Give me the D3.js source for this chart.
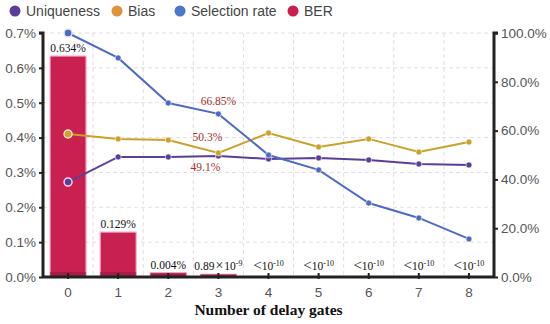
<!DOCTYPE html>
<html><head><meta charset="utf-8">
<script src="https://cdn.jsdelivr.net/npm/d3@7"></script>
<style>body{margin:0;background:#fff}svg{display:block}</style>
</head><body>
<svg id="c" width="550" height="324"></svg>
<script>
const categories = ["0","1","2","3","4","5","6","7","8"];
const berValues = [0.634, 0.129, 0.012, 0.008, 0, 0, 0, 0, 0];
const berLabels = ["0.634%", "0.129%", "0.004%", "0.89×10|-9", "<10|-10", "<10|-10", "<10|-10", "<10|-10", "<10|-10"];
const selectionRate = [100, 89.8, 71.3, 66.85, 50.0, 43.9, 30.3, 24.2, 15.6];
const bias = [58.6, 56.6, 56.1, 50.8, 59.0, 53.3, 56.6, 51.2, 55.3];
const uniqueness = [38.9, 49.2, 49.2, 49.6, 48.4, 48.8, 48.0, 46.3, 45.9];
const leftTicks = [0, 0.1, 0.2, 0.3, 0.4, 0.5, 0.6, 0.7];
const rightTicks = [0, 20, 40, 60, 80, 100];
const annotations = [
  {i: 3, text: "66.85%", series: "sel", dx: 0, dy: -9},
  {i: 3, text: "50.3%", series: "bias", dx: -11, dy: -12},
  {i: 3, text: "49.1%", series: "uni", dx: -13, dy: 15}
];

const svg = d3.select("#c");
const m = {l: 43, r: 494, t: 33, b: 277};
const x = d3.scaleBand().domain(categories).range([m.l, m.r]).paddingInner(0.28).paddingOuter(0.14);
const xc = d => x(d) + x.bandwidth() / 2;
const yL = d3.scaleLinear().domain([0, 0.7]).range([m.b, m.t]);
const yR = d3.scaleLinear().domain([0, 100]).range([m.b, m.t]);
const step = x.step();

// grid
const g = svg.append("g");
leftTicks.forEach(t => g.append("line").attr("x1", m.l).attr("x2", m.r).attr("y1", yL(t)).attr("y2", yL(t))
  .attr("stroke", "#e2dde2").attr("stroke-dasharray", "4,3").attr("stroke-width", 1));
categories.slice(1).forEach(c => {
  const xx = x(c) - (step - x.bandwidth()) / 2;
  g.append("line").attr("x1", xx).attr("x2", xx).attr("y1", m.t).attr("y2", m.b)
    .attr("stroke", "#e2dde2").attr("stroke-dasharray", "4,3").attr("stroke-width", 1);
});

// bars
const bars = svg.append("g");
categories.forEach((c, i) => {
  const v = berValues[i];
  if (v <= 0) return;
  bars.append("rect").attr("x", x(c)).attr("width", x.bandwidth()).attr("y", yL(v)).attr("height", yL(0) - yL(v))
    .attr("fill", "#c8204f").attr("stroke", "#f7b3d3").attr("stroke-width", 1.2);
  const sh = Math.min(5, yL(0) - yL(v));
  bars.append("rect").attr("x", x(c)).attr("width", x.bandwidth()).attr("y", yL(0) - sh).attr("height", sh)
    .attr("fill", "#8e1d3e").attr("opacity", 0.6);
});

// bar labels
categories.forEach((c, i) => {
  const parts = berLabels[i].split("|");
  const yy = Math.min(yL(berValues[i]) - 4, m.b - 7);
  const t = svg.append("text").attr("x", xc(c)).attr("y", yy).attr("text-anchor", "middle")
    .attr("font-family", "Liberation Serif, Times New Roman, serif").attr("font-size", 11.5).attr("fill", "#111");
  let main = parts[0];
  if (main.startsWith("<")) {
    t.append("tspan").attr("font-size", 15).text("<");
    t.append("tspan").text(main.slice(1));
  } else if (main.includes("×")) {
    const [a, b] = main.split("×");
    t.append("tspan").text(a);
    t.append("tspan").attr("font-size", 14).attr("dx", 1).text("×");
    t.append("tspan").attr("dx", 1).text(b);
  } else {
    t.append("tspan").text(main);
  }
  if (parts[1]) t.append("tspan").attr("dy", -4).attr("font-size", 8).text(parts[1]);
});

// lines
function drawSeries(vals, lineColor, ptColor, firstStroke) {
  const line = d3.line().x((d, i) => xc(categories[i])).y(d => yR(d));
  svg.append("path").datum(vals).attr("d", line).attr("fill", "none").attr("stroke", lineColor).attr("stroke-width", 2);
  vals.forEach((v, i) => {
    svg.append("circle").attr("cx", xc(categories[i])).attr("cy", yR(v)).attr("r", i === 0 ? 4 : 3)
      .attr("fill", ptColor).attr("stroke", i === 0 ? firstStroke : "#fff").attr("stroke-width", i === 0 ? 1.5 : 0.6);
  });
}
drawSeries(uniqueness, "#5a3f98", "#5a3f98", "#f6d0ee");
drawSeries(bias, "#caa229", "#caa229", "#fde0c8");
drawSeries(selectionRate, "#4e6bc1", "#4e6bc1", "#dde4f6");

// annotations
const seriesMap = {sel: selectionRate, bias: bias, uni: uniqueness};
annotations.forEach(a => {
  svg.append("text").attr("x", xc(categories[a.i]) + a.dx).attr("y", yR(seriesMap[a.series][a.i]) + a.dy)
    .attr("text-anchor", "middle").attr("font-family", "Liberation Serif, Times New Roman, serif")
    .attr("font-size", 11.5).attr("fill", "#a3302b").text(a.text);
});

// axes
const fmtL = d => d.toFixed(1) + "%";
const fmtR = d => d.toFixed(1) + "%";
const axL = svg.append("g").attr("transform", `translate(${m.l},0)`)
  .call(d3.axisLeft(yL).tickValues(leftTicks).tickFormat(fmtL).tickSize(4).tickPadding(3));
const axR = svg.append("g").attr("transform", `translate(${m.r},0)`)
  .call(d3.axisRight(yR).tickValues(rightTicks).tickFormat(fmtR).tickSize(4).tickPadding(3));
const axB = svg.append("g").attr("transform", `translate(0,${m.b})`)
  .call(d3.axisBottom(x).tickSize(4).tickPadding(6));
[axL, axR, axB].forEach(a => {
  a.select(".domain").attr("stroke", "#222").attr("stroke-width", 3);
  a.selectAll(".tick line").attr("stroke", "#222").attr("stroke-width", 2);
  a.selectAll(".tick text").attr("font-family", "Liberation Sans, Arial, sans-serif").attr("font-size", 13.5).attr("fill", "#555");
});
axL.select(".domain").attr("d", `M-4,${m.t}H0V${m.b}`);
axR.select(".domain").attr("d", `M4,${m.t}H0V${m.b}`);
axB.select(".domain").attr("d", `M${m.l},0H${m.r}`);
axB.selectAll(".tick line").attr("y1", -4).attr("y2", 2);

svg.append("text").attr("x", (m.l + m.r) / 2).attr("y", 315).attr("text-anchor", "middle")
  .attr("font-family", "Liberation Serif, Times New Roman, serif").attr("font-weight", "bold")
  .attr("font-size", 15.5).attr("fill", "#111").text("Number of delay gates");

// legend
const legend = [
  {name: "Uniqueness", color: "#5a3f98", x: 15},
  {name: "Bias", color: "#e0923a", x: 117},
  {name: "Selection rate", color: "#4a78c6", x: 180},
  {name: "BER", color: "#cc1e4d", x: 293}
];
legend.forEach(l => {
  svg.append("circle").attr("cx", l.x).attr("cy", 11).attr("r", 5.5).attr("fill", l.color);
  svg.append("text").attr("x", l.x + 11).attr("y", 16).attr("font-family", "Liberation Sans, Arial, sans-serif")
    .attr("font-size", 14).attr("fill", "#444").text(l.name);
});
</script>
</body></html>
